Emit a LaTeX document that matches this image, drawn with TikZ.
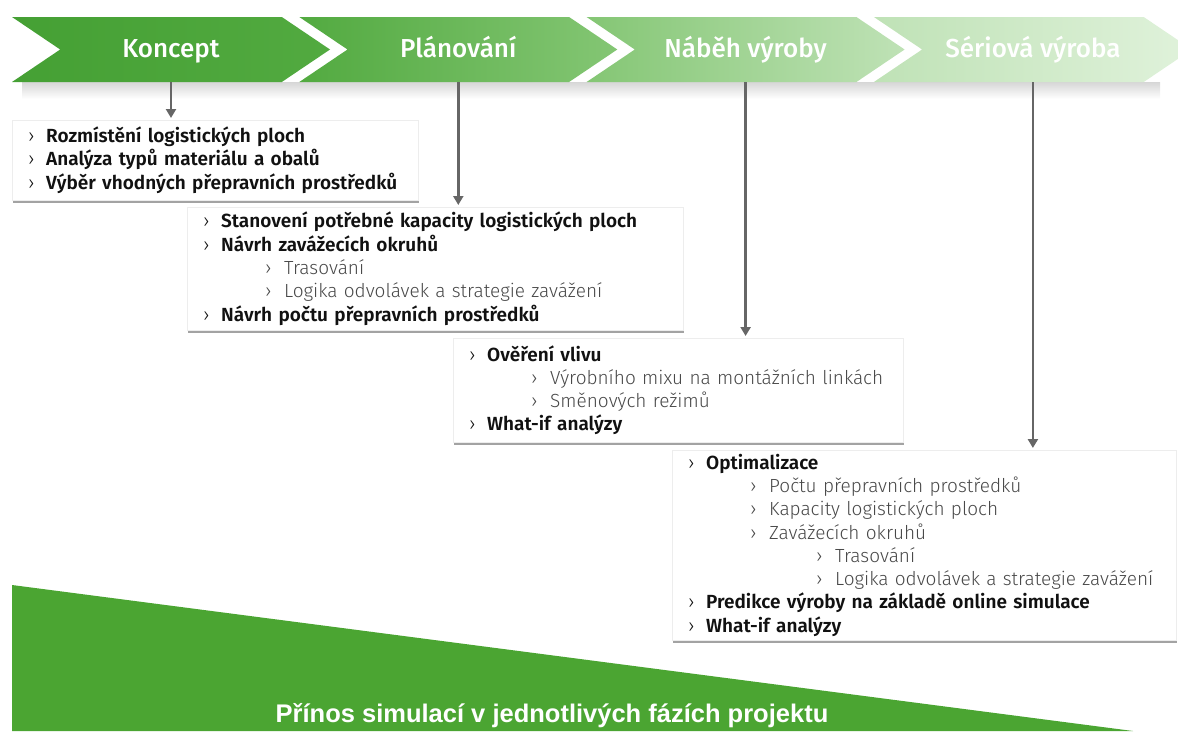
\documentclass[tikz,border=0pt]{standalone}
\usepackage{fontspec}
\setmainfont{Fira Sans}[UprightFont=* Light, BoldFont=* SemiBold]
\newfontfamily\chevfont{Fira Sans}[UprightFont=* Medium]
\newfontfamily\barfont{Liberation Sans}
\usetikzlibrary{shapes.symbols,arrows.meta,shadows}

\definecolor{chA}{HTML}{45A034}
\definecolor{chB}{HTML}{52AA40}
\definecolor{chC}{HTML}{84C674}
\definecolor{chD}{HTML}{BFE2B6}
\definecolor{chE}{HTML}{E0F2DB}
\definecolor{bargreen}{HTML}{4BA532}
\definecolor{linkgray}{HTML}{666666}
\definecolor{subgray}{HTML}{484848}
\definecolor{maintext}{HTML}{111111}

\newcommand{\itA}[1]{\mbox{\color{maintext}\makebox[18pt][l]{›}\textbf{#1}}}
\newcommand{\itB}[1]{\mbox{\hspace*{62pt}\color{subgray}\makebox[19pt][l]{›}#1}}
\newcommand{\itC}[1]{\mbox{\hspace*{128pt}\color{subgray}\makebox[19pt][l]{›}#1}}

\begin{document}
\begin{tikzpicture}
	[
	x=1pt, y=-1pt,
	phase/.style={signal, signal from=west, signal to=east, signal pointer angle=68,
		minimum width=318pt, minimum height=65pt, inner sep=0pt, text=white,
		text height=19pt, text depth=2.5pt,
		font=\chevfont\fontsize{26}{30}\selectfont},
	infobox/.style={fill=white, draw=black!7, anchor=north west, align=left,
		inner xsep=16pt, inner ysep=0pt, font=\fontsize{19}{23.3}\selectfont,
		drop shadow={shadow xshift=1pt, shadow yshift=-3pt, fill=black!45, opacity=.8}},
	link/.style={draw=linkgray, line width=2.5pt, -{Triangle[width=10pt,length=9pt]}, shorten >=2pt},
	]
		\useasboundingbox (0,0) rectangle (1178,731);
		
		% shadow under the phases
		\fill[top color=black!16, bottom color=white] (22,82) rectangle (1160,99);
		
		% phases
		\node[phase, left color=chA, right color=chB] (kon) at ( 171.0, 49.5 ) {Koncept};
		\node[phase, left color=chB, right color=chC] (pla) at ( 458.3, 49.5 ) {Plánování};
		\node[phase, left color=chC, right color=chD] (nab) at ( 745.6, 49.5 ) {Náběh výroby};
		\node[phase, left color=chD, right color=chE] (ser) at (1032.9, 49.5 ) {Sériová výroba};
		
		% benefit wedge
		\fill[bargreen] (12,585) -- (1133,731) -- (12,731) -- cycle;
		\node[text=white, font=\barfont\bfseries\fontsize{25.5}{28}\selectfont] (benefit) at (552,716)
			{Přínos simulací v jednotlivých fázích projektu};
		
		% concept
		\node[infobox, text width=374pt, minimum height=80pt] (kbox) at (12,120)
			{\itA{Rozmístění logistických ploch}\\
			 \itA{Analýza typů materiálu a obalů}\\
			 \itA{Výběr vhodných přepravních prostředků}};
		
		% planning
		\node[infobox, text width=464pt, minimum height=123pt] (pbox) at (187,207)
			{\itA{Stanovení potřebné kapacity logistických ploch}\\
			 \itA{Návrh zavážecích okruhů}\\
			 \itB{Trasování}\\
			 \itB{Logika odvolávek a strategie zavážení}\\
			 \itA{Návrh počtu přepravních prostředků}};
		
		% ramp-up
		\node[infobox, text width=418pt, minimum height=104pt] (nbox) at (453,338)
			{\itA{Ověření vlivu}\\
			 \itB{Výrobního mixu na montážních linkách}\\
			 \itB{Směnových režimů}\\
			 \itA{What-if analýzy}};
		
		% series production
		\node[infobox, text width=472pt, minimum height=190pt] (sbox) at (672,450)
			{\itA{Optimalizace}\\
			 \itB{Počtu přepravních prostředků}\\
			 \itB{Kapacity logistických ploch}\\
			 \itB{Zavážecích okruhů}\\
			 \itC{Trasování}\\
			 \itC{Logika odvolávek a strategie zavážení}\\
			 \itA{Predikce výroby na základě online simulace}\\
			 \itA{What-if analýzy}};
		
		\foreach \from/\to in {kon/kbox,pla/pbox,nab/nbox,ser/sbox} \draw[link] (\from.south) -- (\from.south |- \to.north);
		
	\end{tikzpicture}
\end{document}
